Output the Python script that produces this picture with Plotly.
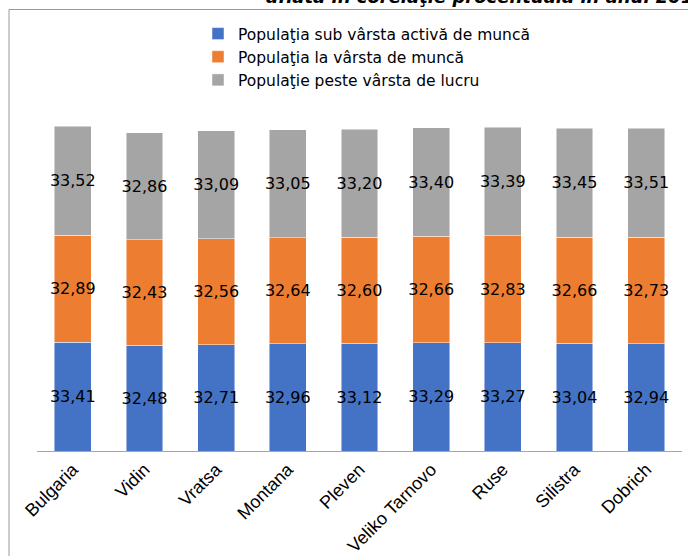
import plotly.graph_objects as go

categories = ["Bulgaria", "Vidin", "Vratsa", "Montana", "Pleven", "Veliko Tarnovo", "Ruse", "Silistra", "Dobrich"]
sub_activa = [33.41, 32.48, 32.71, 32.96, 33.12, 33.29, 33.27, 33.04, 32.94]
la_munca = [32.89, 32.43, 32.56, 32.64, 32.60, 32.66, 32.83, 32.66, 32.73]
peste = [33.52, 32.86, 33.09, 33.05, 33.20, 33.40, 33.39, 33.45, 33.51]
series_names = ["Populaţia sub vârsta activă de muncă", "Populaţia la vârsta de muncă", "Populaţie peste vârsta de lucru"]
series_values = [sub_activa, la_munca, peste]
colors = ["#4472C4", "#ED7D31", "#A5A5A5"]
title_text = "aflată în corelaţie procentuală în anul 2019"

W, H = 688, 556
# plot area in page pixels: x 37..682, y 93..451
L, T = 37, 93
R, B = W - 682, H - 451
pw, ph = W - L - R, H - T - B

def px(x):  # page pixel -> paper x
    return (x - L) / pw

def py(y):  # page pixel -> paper y
    return (H - B - y) / ph

fig = go.Figure()
for i, (name, vals, col) in enumerate(zip(series_names, series_values, colors)):
    fig.add_trace(go.Bar(
        x=categories, y=vals, name=name,
        marker=dict(color=col, line=dict(color="rgba(255,255,255,0.6)", width=0.8)),
        texttemplate="%{y:.2f}", textposition="inside", insidetextanchor="middle",
        textangle=0, constraintext="none",
        textfont=dict(family="DejaVu Sans", size=16, color="#000000"),
        legendgroup=str(i), hoverinfo="skip",
    ))

fig.add_annotation(
    xref="paper", yref="paper", x=px(265), y=py(8.5), xanchor="left", yanchor="bottom",
    text="<b><i>" + title_text + "</i></b>", showarrow=False,
    font=dict(family="DejaVu Sans", size=18, color="#000000"), borderpad=0,
)

fig.add_shape(type="line", xref="paper", yref="paper", x0=px(9), x1=px(700), y0=py(9.5), y1=py(9.5),
              line=dict(color="#9a9a9a", width=1))
fig.add_shape(type="line", xref="paper", yref="paper", x0=px(9), x1=px(9), y0=py(9.5), y1=py(570),
              line=dict(color="#9a9a9a", width=1))

fig.update_layout(
    width=W, height=H, barmode="stack", bargap=0.484,
    separators=", ",
    uniformtext=dict(minsize=16, mode="show"),
    margin=dict(l=L, r=R, t=T, b=B, autoexpand=False),
    paper_bgcolor="white", plot_bgcolor="white",
    font=dict(family="DejaVu Sans", color="#000000"),
    legend=dict(x=px(198), y=py(17), xanchor="left", yanchor="top", traceorder="normal",
                orientation="v", tracegroupgap=10, itemwidth=30,
                font=dict(family="DejaVu Sans", size=15.5, color="#000000"), bgcolor="rgba(0,0,0,0)"),
    xaxis=dict(tickangle=-45, showline=True, linecolor="#a6a6a6", linewidth=1, ticks="",
               tickfont=dict(family="Liberation Sans", size=18, color="#000000"), fixedrange=True),
    yaxis=dict(range=[0, 110], visible=False, showgrid=False, fixedrange=True),
    showlegend=True,
)

fig.write_html("out.html", config={"displayModeBar": False},
               post_script="document.body.style.margin='0';")
